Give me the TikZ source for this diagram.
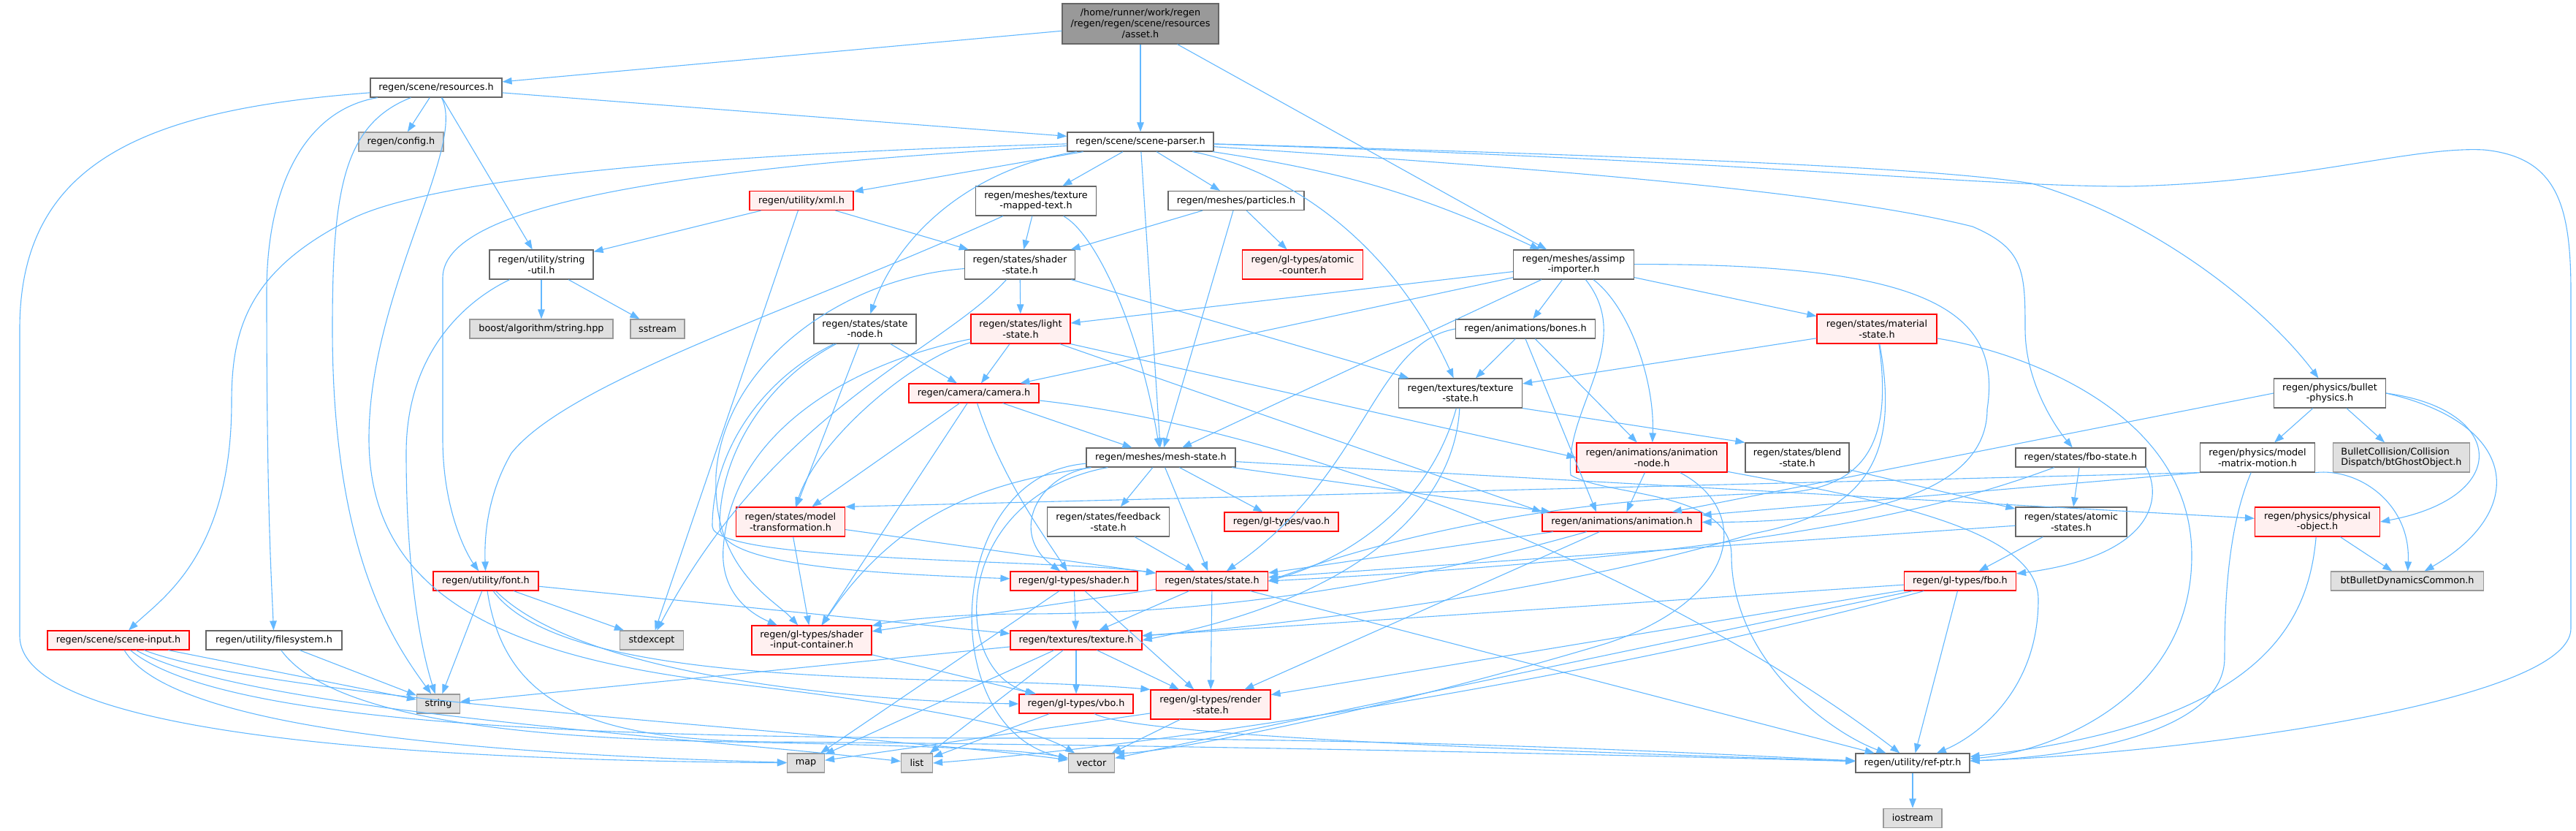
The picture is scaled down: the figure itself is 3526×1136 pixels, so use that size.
\documentclass[tikz,border=0pt]{standalone}
\usepackage{fontspec}
\setmainfont{DejaVu Sans}
\usepackage{xcolor}
\usepackage{tikz}
\usetikzlibrary{arrows.meta,positioning}
\definecolor{edgeblue}{HTML}{63B8FF}
\definecolor{boxgray}{HTML}{666666}
\definecolor{truncred}{HTML}{FF0000}
\definecolor{truncfill}{HTML}{FFF0F0}
\definecolor{sysfill}{HTML}{E0E0E0}
\definecolor{sysline}{HTML}{999999}
\definecolor{rootfill}{HTML}{999999}

\begin{document}
\begin{tikzpicture}[
  x=1pt, y=-1pt,
  every node/.style={font=\fontsize{12.8}{14.8}\selectfont},
  hdr/.style={rectangle, draw=boxgray, fill=white, line width=1.2pt,
              align=center, minimum height=26pt, inner sep=1pt},
  two/.style={minimum height=40pt},
  trunc/.style={hdr, draw=truncred, fill=truncfill},
  sys/.style={hdr, draw=sysline, fill=sysfill},
  root/.style={hdr, fill=rootfill},
  dep/.style={-{Triangle[length=13pt,width=9.5pt]}, draw=edgeblue, line width=1.1pt}
]
\useasboundingbox (0,0) rectangle (3526,1136);

\node[root, minimum width=214pt, minimum height=55pt] (asset) at (1561,32.5) {/home/runner/work/regen\\/regen/regen/scene/resources\\/asset.h};
\node[hdr, minimum width=180pt] (resources) at (597,120) {regen/scene/resources.h};
\node[hdr, minimum width=200pt] (sceneparser) at (1561,194) {regen/scene/scene-parser.h};
\node[sys, minimum width=116pt] (config) at (549,194) {regen/config.h};
\node[hdr, two, minimum width=142pt] (stringutil) at (741,362) {regen/utility/string\\-util.h};
\node[sys, minimum width=196pt] (boost) at (741,450) {boost/algorithm/string.hpp};
\node[sys, minimum width=74pt] (sstream) at (900,450) {sstream};
\node[trunc, minimum width=142pt] (xml) at (1097,274.5) {regen/utility/xml.h};
\node[hdr, two, minimum width=165pt] (texturemapped) at (1418,275) {regen/meshes/texture\\-mapped-text.h};
\node[hdr, minimum width=186pt] (particles) at (1692,274.5) {regen/meshes/particles.h};
\node[hdr, two, minimum width=151pt] (shaderstate) at (1396,362) {regen/states/shader\\-state.h};
\node[trunc, two, minimum width=165pt] (atomiccounter) at (1783,362) {regen/gl-types/atomic\\-counter.h};
\node[hdr, two, minimum width=140pt] (statenode) at (1184,450) {regen/states/state\\-node.h};
\node[trunc, two, minimum width=136pt] (lightstate) at (1397,450) {regen/states/light\\-state.h};
\node[trunc, minimum width=178pt] (camera) at (1333,538) {regen/camera/camera.h};
\node[hdr, two, minimum width=165pt] (assimp) at (2154,362) {regen/meshes/assimp\\-importer.h};
\node[hdr, minimum width=191pt] (bones) at (2088,450) {regen/animations/bones.h};
\node[trunc, two, minimum width=164pt] (materialstate) at (2569,450) {regen/states/material\\-state.h};
\node[hdr, two, minimum width=169pt] (texturestate) at (1999,538) {regen/textures/texture\\-state.h};
\node[hdr, two, minimum width=153pt] (bulletphysics) at (3189,538) {regen/physics/bullet\\-physics.h};
\node[trunc, minimum width=144pt] (font) at (665,795) {regen/utility/font.h};
\node[trunc, minimum width=194pt] (sceneinput) at (162,876) {regen/scene/scene-input.h};
\node[hdr, minimum width=186pt] (filesystem) at (375,876) {regen/utility/filesystem.h};
\node[sys, minimum width=59pt] (string) at (600,963) {string};
\node[sys, minimum width=87pt] (stdexcept) at (892,876) {stdexcept};
\node[hdr, minimum width=204pt] (meshstate) at (1589,626) {regen/meshes/mesh-state.h};
\node[trunc, two, minimum width=149pt] (modeltransform) at (1082,714) {regen/states/model\\-transformation.h};
\node[hdr, two, minimum width=167pt] (feedbackstate) at (1517,714) {regen/states/feedback\\-state.h};
\node[trunc, minimum width=156pt] (vao) at (1754,714) {regen/gl-types/vao.h};
\node[trunc, minimum width=174pt] (shadergl) at (1470,795) {regen/gl-types/shader.h};
\node[trunc, minimum width=153pt] (statestate) at (1659,795) {regen/states/state.h};
\node[trunc, two, minimum width=164pt] (shaderinput) at (1111,876) {regen/gl-types/shader\\-input-container.h};
\node[trunc, minimum width=180pt] (texture) at (1473,876) {regen/textures/texture.h};
\node[trunc, minimum width=156pt] (vbo) at (1473,963) {regen/gl-types/vbo.h};
\node[trunc, two, minimum width=164pt] (renderstate) at (1657,964) {regen/gl-types/render\\-state.h};
\node[sys, minimum width=51pt] (map) at (1103,1044) {map};
\node[sys, minimum width=43pt] (list) at (1255,1044) {list};
\node[sys, minimum width=63pt] (vector) at (1494,1044) {vector};
\node[trunc, two, minimum width=206pt] (animnode) at (2261,626) {regen/animations/animation\\-node.h};
\node[hdr, two, minimum width=142pt] (blendstate) at (2460,626) {regen/states/blend\\-state.h};
\node[trunc, minimum width=218pt] (animation) at (2220,714) {regen/animations/animation.h};
\node[trunc, minimum width=153pt] (fbo) at (2683,795) {regen/gl-types/fbo.h};
\node[hdr, minimum width=156pt] (refptr) at (2618,1044) {regen/utility/ref-ptr.h};
\node[sys, minimum width=80pt] (iostream) [below=48pt of refptr] {iostream};
\node[hdr, minimum width=178pt] (fbostate) at (2848,626) {regen/states/fbo-state.h};
\node[hdr, two, minimum width=157pt] (modelmatrix) at (3090,626) {regen/physics/model\\-matrix-motion.h};
\node[sys, two, minimum width=187pt, align=left] (btghost) at (3287,626) {BulletCollision/Collision\\Dispatch/btGhostObject.h};
\node[hdr, two, minimum width=152pt] (atomicstates) at (2835,714) {regen/states/atomic\\-states.h};
\node[trunc, two, minimum width=171pt] (physicalobject) at (3172,714) {regen/physics/physical\\-object.h};
\node[sys, minimum width=209pt] (btbullet) at (3295,795) {btBulletDynamicsCommon.h};

\draw[dep] (asset) -- (resources);
\draw[dep] (asset) -- (sceneparser);
\draw[dep] (asset) -- (assimp);
\draw[dep] (resources) -- (sceneparser);
\draw[dep] (resources) -- (config);
\draw[dep] (resources) -- (stringutil);
\draw[dep] (resources) .. controls (470,170) and (455,260) .. (455,450) .. controls (455,760) and (540,880) .. (string);
\draw[dep] (resources) .. controls (200,150) and (27,220) .. (27,450) -- (27,870) .. controls (27,1010) and (600,1040) .. (map);
\draw[dep] (resources) .. controls (420,150) and (365,250) .. (365,400) .. controls (365,700) and (372,800) .. (filesystem);
\draw[dep] (resources) .. controls (640,200) and (505,400) .. (505,600) .. controls (505,820) and (700,900) .. (1000,935) .. controls (1300,970) and (1420,1000) .. (vector);
\draw[dep] (stringutil) -- (boost);
\draw[dep] (stringutil) -- (sstream);
\draw[dep] (stringutil) .. controls (640,410) and (556,480) .. (556,620) .. controls (556,800) and (580,900) .. (string);

\draw[dep] (sceneparser) -- (xml);
\draw[dep] (sceneparser) -- (texturemapped);
\draw[dep] (sceneparser) -- (particles);
\draw[dep] (sceneparser) -- (meshstate);
\draw[dep] (sceneparser) to[bend left=8] (assimp);
\draw[dep] (sceneparser) .. controls (1330,230) and (1230,320) .. (statenode);
\draw[dep] (sceneparser) .. controls (1750,230) and (1900,320) .. (texturestate);
\draw[dep] (sceneparser) .. controls (1000,210) and (600,240) .. (480,300) .. controls (340,370) and (317,450) .. (317,550) .. controls (317,760) and (220,820) .. (sceneinput);
\draw[dep] (sceneparser) .. controls (1000,225) and (606,270) .. (606,380) -- (606,600) .. controls (606,700) and (640,760) .. (font);
\draw[dep] (sceneparser) .. controls (2300,215) and (2650,230) .. (2781,251) .. controls (2950,300) and (3100,420) .. (bulletphysics);
\draw[dep] (sceneparser) .. controls (2100,230) and (2500,260) .. (2700,310) .. controls (2770,340) and (2772,370) .. (2772,450) .. controls (2772,520) and (2810,580) .. (fbostate);
\draw[dep] (sceneparser) .. controls (2400,220) and (2700,255) .. (2913,255) .. controls (3150,250) and (3300,200) .. (3400,205) .. controls (3500,215) and (3519,280) .. (3519,400) -- (3519,860) .. controls (3519,960) and (3000,1030) .. (refptr);

\draw[dep] (xml) -- (stringutil);
\draw[dep] (xml) -- (shaderstate);
\draw[dep] (xml) -- (stdexcept);
\draw[dep] (texturemapped) -- (shaderstate);
\draw[dep] (texturemapped) .. controls (1500,320) and (1560,450) .. (meshstate);
\draw[dep] (texturemapped) .. controls (1100,420) and (780,520) .. (700,620) .. controls (665,680) and (663,740) .. (font);
\draw[dep] (particles) -- (shaderstate);
\draw[dep] (particles) -- (atomiccounter);
\draw[dep] (particles) -- (meshstate);

\draw[dep] (shaderstate) -- (lightstate);
\draw[dep] (shaderstate) -- (texturestate);
\draw[dep] (shaderstate) .. controls (1150,380) and (990,500) .. (980,650) .. controls (975,780) and (1060,820) .. (shaderinput);
\draw[dep] (shaderstate) .. controls (1290,480) and (1060,560) .. (stdexcept);
\draw[dep] (statenode) -- (camera);
\draw[dep] (statenode) -- (modeltransform);
\draw[dep] (statenode) .. controls (1040,520) and (975,620) .. (975,720) .. controls (975,770) and (1450,765) .. (statestate);
\draw[dep] (statenode) .. controls (1050,520) and (985,620) .. (985,720) .. controls (985,775) and (1200,785) .. (shadergl);
\draw[dep] (lightstate) -- (camera);
\draw[dep] (lightstate) .. controls (1250,490) and (1120,600) .. (modeltransform);
\draw[dep] (lightstate) .. controls (1150,500) and (1000,600) .. (990,750) .. controls (985,820) and (1040,845) .. (shaderinput);
\draw[dep] (lightstate.south east) -- (animnode.west);
\draw[dep] ([xshift=-15pt]lightstate.south east) -- (animation.north west);
\draw[dep] (camera) -- (meshstate);
\draw[dep] (camera) -- (modeltransform);
\draw[dep] (camera) -- (shaderinput);
\draw[dep] (camera) .. controls (1370,650) and (1420,720) .. (shadergl);
\draw[dep] (camera) .. controls (1800,590) and (2300,800) .. (refptr);

\draw[dep] (assimp) -- (lightstate);
\draw[dep] (assimp) -- (camera);
\draw[dep] (assimp) -- (meshstate);
\draw[dep] (assimp) -- (bones);
\draw[dep] (assimp) -- (materialstate);
\draw[dep] (assimp) .. controls (2230,420) and (2265,520) .. (animnode);
\draw[dep] (assimp) .. controls (2650,360) and (2740,430) .. (2720,560) .. controls (2720,690) and (2500,715) .. (animation);
\draw[dep] (assimp) .. controls (2240,470) and (2140,560) .. (2150,650) .. controls (2200,680) and (2370,670) .. (2370,760) .. controls (2370,900) and (2500,1000) .. (refptr);
\draw[dep] (bones) -- (texturestate);
\draw[dep] (bones) -- (animnode);
\draw[dep] (bones.south) -- ([xshift=-35pt]animation.north);
\draw[dep] (bones.west) .. controls (1880,470) and (1870,650) .. (statestate);
\draw[dep] (materialstate) -- (texturestate);
\draw[dep] (materialstate) .. controls (2590,600) and (2560,675) .. (2420,675) .. controls (2250,680) and (2000,700) .. (statestate.east);
\draw[dep] (materialstate) .. controls (2600,620) and (2560,700) .. (2400,730) .. controls (2100,820) and (1700,860) .. (texture);
\draw[dep] (materialstate) .. controls (2760,480) and (3000,560) .. (3000,760) .. controls (3000,960) and (2800,1030) .. (refptr);
\draw[dep] (texturestate.south east) -- (blendstate.north west);
\draw[dep] (texturestate) .. controls (1990,700) and (1850,820) .. (texture.east);
\draw[dep] (texturestate) .. controls (1960,680) and (1860,760) .. (statestate.east);

\draw[dep] (meshstate) -- (feedbackstate);
\draw[dep] (meshstate) -- (vao);
\draw[dep] (meshstate) -- (statestate);
\draw[dep] (meshstate) -- (animation);
\draw[dep] (meshstate) -- (physicalobject);
\draw[dep] (meshstate) .. controls (1350,660) and (1230,700) .. (shaderinput);
\draw[dep] (meshstate) .. controls (1420,650) and (1380,730) .. (shadergl);
\draw[dep] (meshstate) .. controls (1300,680) and (1300,920) .. (vbo);
\draw[dep] (meshstate) .. controls (1290,650) and (1280,1000) .. (vector);
\draw[dep] (modeltransform) -- (statestate);
\draw[dep] (modeltransform) -- (shaderinput);
\draw[dep] (feedbackstate) -- (statestate);

\draw[dep] (animnode) -- (animation);
\draw[dep] (animnode) .. controls (2400,700) and (2380,820) .. (2200,880) .. controls (1900,970) and (1600,1030) .. (vector.north east);
\draw[dep] (animnode) .. controls (2550,680) and (2790,720) .. (2790,820) .. controls (2790,950) and (2700,1010) .. (refptr);
\draw[dep] (animation) -- (statestate);
\draw[dep] (animation) -- (renderstate);
\draw[dep] (animation) .. controls (1950,790) and (1700,840) .. (1400,840) .. controls (1300,840) and (1220,850) .. (shaderinput);
\draw[dep] (blendstate) -- (atomicstates);
\draw[dep] (fbostate) -- (atomicstates);
\draw[dep] (fbostate) .. controls (2650,700) and (2400,760) .. (statestate.east);
\draw[dep] (fbostate.south east) .. controls (2960,680) and (2950,760) .. (fbo);
\draw[dep] (atomicstates) -- (fbo);
\draw[dep] (atomicstates) -- (statestate);

\draw[dep] (bulletphysics) -- (modelmatrix);
\draw[dep] (bulletphysics) -- (btghost);
\draw[dep] (bulletphysics.west) -- (animation);
\draw[dep] (bulletphysics.east) .. controls (3430,560) and (3440,680) .. (physicalobject.east);
\draw[dep] (bulletphysics.east) .. controls (3450,580) and (3460,700) .. (btbullet);
\draw[dep] (modelmatrix.south west) -- (modeltransform.north east);
\draw[dep] (modelmatrix.south west) -- (animation);
\draw[dep] (modelmatrix.south east) .. controls (3230,640) and (3300,690) .. (btbullet);
\draw[dep] (modelmatrix) .. controls (3050,720) and (3045,820) .. (3045,900) .. controls (3045,1000) and (2850,1035) .. (refptr);
\draw[dep] (physicalobject) -- (btbullet);
\draw[dep] (physicalobject) .. controls (3160,850) and (3100,990) .. (refptr);

\draw[dep] (shadergl) -- (texture);
\draw[dep] (shadergl) -- (renderstate);
\draw[dep] (shadergl) -- (map);
\draw[dep] (statestate) -- (shaderinput);
\draw[dep] (statestate) -- (texture);
\draw[dep] (statestate) -- (renderstate);
\draw[dep] (statestate) -- (refptr);
\draw[dep] (texture) -- (string);
\draw[dep] (texture) -- (map);
\draw[dep] (texture) -- (list);
\draw[dep] (texture) -- (vbo);
\draw[dep] (texture) -- (renderstate);
\draw[dep] (shaderinput) -- (vbo);
\draw[dep] (vbo) -- (list);
\draw[dep] (vbo) .. controls (1560,1010) and (2200,1030) .. (refptr);
\draw[dep] (renderstate) -- (vector);
\draw[dep] (renderstate) -- (map);
\draw[dep] (fbo) -- (texture);
\draw[dep] (fbo) -- (renderstate);
\draw[dep] (fbo) -- (vector);
\draw[dep] (fbo) .. controls (2300,900) and (1700,1010) .. (list.east);
\draw[dep] (fbo) -- (refptr);
\draw[dep] (refptr) -- (iostream);

\draw[dep] (font) -- (string);
\draw[dep] (font) -- (stdexcept);
\draw[dep] (font) -- (texture);
\draw[dep] (font) .. controls (800,930) and (1200,960) .. (vbo.west);
\draw[dep] (font) .. controls (780,950) and (1300,920) .. (renderstate.north west);
\draw[dep] (font) .. controls (690,960) and (800,1012) .. (1050,1015) .. controls (1700,1020) and (2300,1035) .. (refptr);
\draw[dep] (filesystem) -- (string);
\draw[dep] (filesystem) .. controls (450,980) and (700,1010) .. (1000,1015) .. controls (1250,1020) and (1400,1025) .. (vector);
\draw[dep] (sceneinput) -- (string);
\draw[dep] (sceneinput) .. controls (230,990) and (600,1030) .. (map);
\draw[dep] (sceneinput) .. controls (330,970) and (900,1005) .. (list);
\draw[dep] (sceneinput) .. controls (380,960) and (1200,1005) .. (vector);
\draw[dep] (sceneinput) .. controls (300,990) and (800,1010) .. (1400,1010) .. controls (2000,1010) and (2400,1035) .. (refptr);
\end{tikzpicture}
\end{document}
